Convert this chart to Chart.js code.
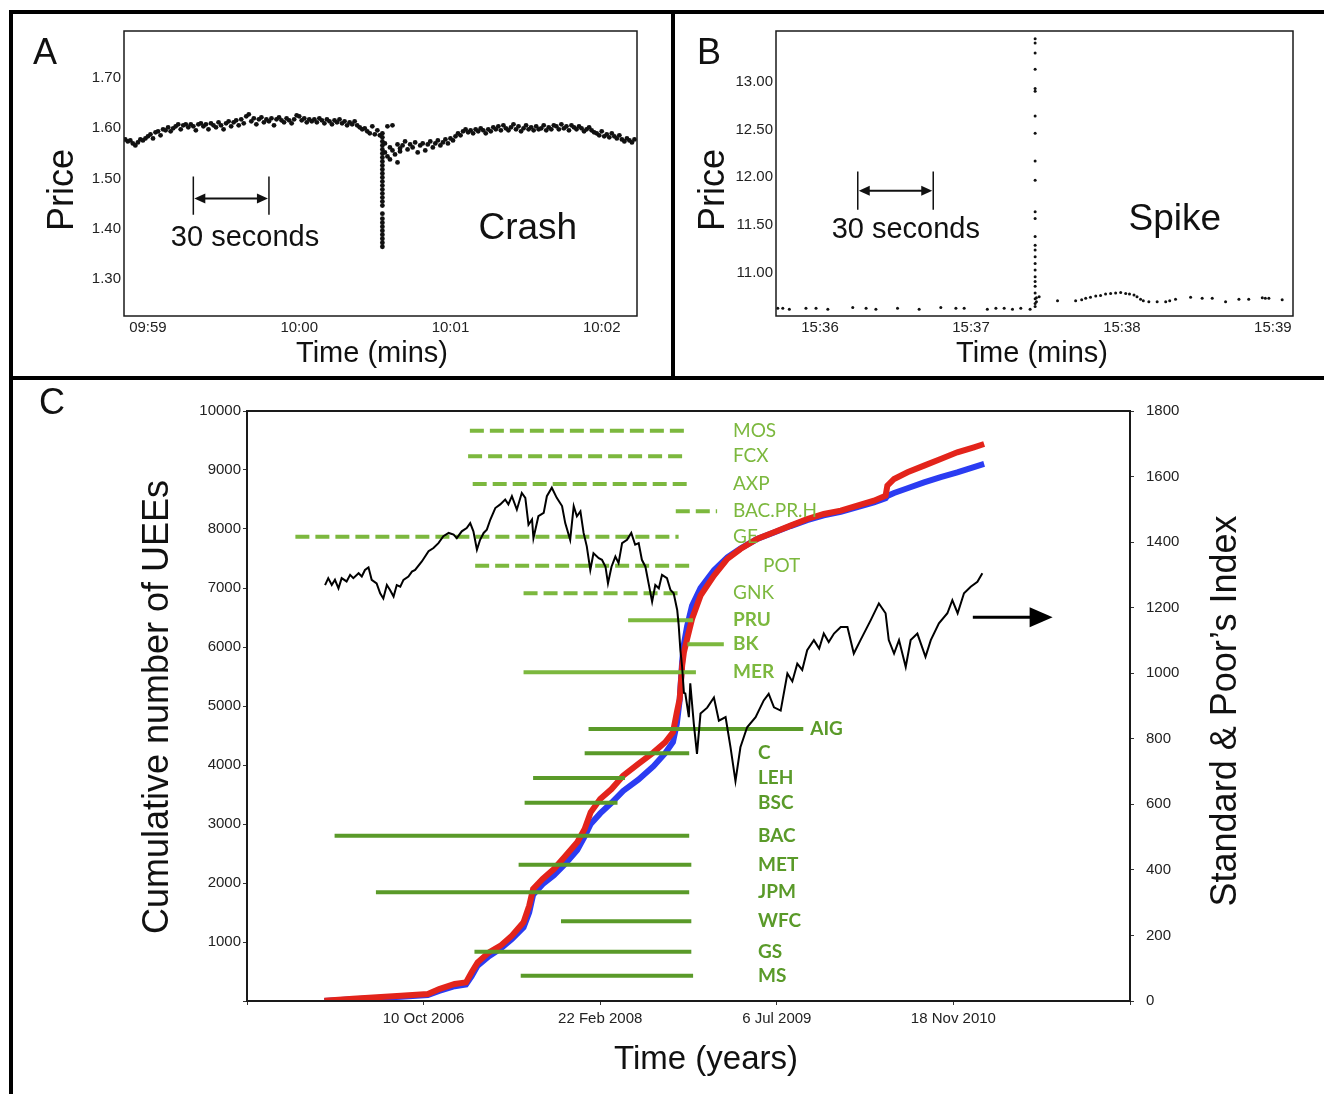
<!DOCTYPE html>
<html>
<head>
<meta charset="utf-8">
<script src="https://cdn.jsdelivr.net/npm/chart.js@4.4.1/dist/chart.umd.min.js"></script>
<style>
  body { margin: 0; background: #fff; width: 1324px; height: 1094px; overflow: hidden; position: relative;
         font-family: 'Liberation Sans', Arial, sans-serif; }
  .rule { position: absolute; background: #000; }
  .panel { position: absolute; }
  .letter { position: absolute; font-size: 36px; line-height: 36px; color: #111; transform: translate(-50%, -50%); }
</style>
</head>
<body>
<div class="rule" style="left:9px;top:10px;width:1315px;height:4px"></div>
<div class="rule" style="left:9px;top:10px;width:4px;height:1084px"></div>
<div class="rule" style="left:671px;top:10px;width:4px;height:370px"></div>
<div class="rule" style="left:9px;top:376px;width:1315px;height:4px"></div>

<div class="panel" style="left:14px;top:14px;width:658px;height:362px"><canvas id="chartA"></canvas></div>
<div class="panel" style="left:676px;top:14px;width:648px;height:362px"><canvas id="chartB"></canvas></div>
<div class="panel" style="left:14px;top:380px;width:1310px;height:714px"><canvas id="chartC"></canvas></div>

<div class="letter" style="left:45px;top:52px">A</div>
<div class="letter" style="left:709px;top:52px">B</div>
<div class="letter" style="left:52px;top:402px">C</div>

<script>
// ---------- Panel A : crash (seconds after 09:59:00) ----------
const aTime = [
  -9,-8,-7,-6,-5,-4,-3,-2,-1,0,
  1,2,3,4,5,6,7,8,9,10,
  11,12,13,14,15,16,17,18,19,20,21,22,23,24,25,26,27,28,29,30,
  31,32,33,34,35,36,37,38,39,40,41,42,43,44,45,46,47,48,49,50,51,52,53,54,55,56,57,58,59,60,61,62,63,64,65,
  66,67,68,69,70,71,72,73,74,75,76,77,78,79,80,81,82,83,84,85,86,
  87,88,89,90,91,92,
  93,93,93,93,93,93,93,93,93,93,93,93,93,93,93,93,93,93,93,93,93,93,93,93,93,93,93,93,
  94,94,95,95,96,96,97,97,98,99,99,100,100,
  101,102,103,104,105,106,107,108,109,110,111,112,113,114,115,116,117,118,119,120,121,122,
  123,124,125,126,127,128,129,130,131,132,133,134,135,136,137,
  138,139,140,141,142,143,144,145,146,147,148,149,150,151,152,153,154,155,156,157,
  158,159,160,161,162,163,164,165,166,167,168,169,170,171,172,173,174,175,176,177,
  178,179,180,181,182,183,184,185,186,187,188,189,190,191,192,193
];
const aPrice = [
  1.578,1.574,1.576,1.570,1.566,1.572,1.578,1.576,1.580,1.584,
  1.588,1.580,1.592,1.594,1.586,1.598,1.596,1.602,1.594,1.600,
  1.604,1.608,1.598,1.606,1.608,1.602,1.608,1.604,1.596,1.608,1.610,1.604,1.608,1.598,1.610,1.606,1.602,1.612,1.606,1.598,
  1.610,1.614,1.604,1.612,1.616,1.606,1.618,1.610,1.624,1.628,1.614,1.620,1.608,1.618,1.622,1.612,1.618,1.614,1.620,1.606,
  1.618,1.622,1.616,1.612,1.620,1.616,1.610,1.618,1.626,1.624,1.616,1.620,1.612,1.618,1.614,
  1.618,1.612,1.620,1.616,1.610,1.618,1.614,1.608,1.616,1.612,1.618,1.610,1.614,1.606,1.612,1.608,1.614,1.606,1.602,1.598,1.600,
  1.594,1.590,1.604,1.588,1.596,1.586,
  1.590,1.582,1.574,1.566,1.558,1.550,1.542,1.534,1.526,1.518,1.510,1.502,1.494,1.486,1.478,1.470,1.462,1.454,1.446,1.430,
  1.420,1.412,1.404,1.396,1.388,1.380,1.372,1.364,
  1.570,1.552,1.544,1.604,1.562,1.538,1.606,1.556,1.548,1.568,1.532,1.560,1.554,
  1.566,1.574,1.558,1.568,1.562,1.572,1.552,1.566,1.570,1.556,1.568,1.574,1.562,1.570,1.576,1.566,1.572,1.578,1.570,1.580,1.576,1.584,
  1.590,1.586,1.594,1.598,1.592,1.596,1.590,1.598,1.594,1.600,1.596,1.590,1.598,1.594,1.602,
  1.598,1.604,1.596,1.606,1.600,1.596,1.602,1.608,1.598,1.604,1.594,1.600,1.606,1.598,1.602,1.596,1.604,1.598,1.600,1.606,
  1.596,1.602,1.598,1.606,1.604,1.598,1.608,1.600,1.604,1.596,1.606,1.602,1.598,1.604,1.600,1.594,1.598,1.602,1.596,1.592,
  1.590,1.586,1.594,1.584,1.588,1.582,1.590,1.584,1.580,1.586,1.578,1.574,1.580,1.576,1.572,1.578
];
const aPriceTicks = [1.30, 1.40, 1.50, 1.60, 1.70];
const aTimeTicks = [0, 60, 120, 180];
const aTimeLabels = ['09:59', '10:00', '10:01', '10:02'];

// ---------- Panel B : spike (seconds after 15:36:00) ----------
const bTime = [
  -16.8,-14.8,-12.2,-5.6,-1.6,3.1,13,18.3,22.2,30.8,39.4,48,54,57.3,66.5,69.9,73.2,76.5,79.8,83.5,
  85.5,85.5,85.5,85.5,85.5,85.5,85.5,85.5,85.5,85.5,85.5,85.5,85.5,85.5,85.5,85.5,85.5,85.5,85.5,85.5,85.5,85.5,85.5,85.5,85.5,
  86,86,
  87.1,94.4,101.6,104,105.6,107.5,109.6,111.5,113.5,115.5,117.5,119.5,121.5,123,124.8,126,127.4,128.5,130.7,134,
  137.4,139,141.3,147.3,151.9,155.9,161.2,166.5,170.4,175.8,177,178.4,183.7
];
const bPrice = [
  10.63,10.63,10.62,10.63,10.63,10.62,10.64,10.63,10.62,10.63,10.62,10.64,10.63,10.63,10.62,10.63,10.63,10.62,10.63,10.62,
  13.45,13.405,13.30,13.13,12.93,12.90,12.64,12.46,12.17,11.97,11.64,11.57,11.38,11.29,11.24,11.17,11.10,11.03,10.96,10.91,
  10.86,10.79,10.73,10.68,10.65,
  10.74,10.70,
  10.75,10.71,10.71,10.72,10.735,10.745,10.76,10.765,10.78,10.785,10.79,10.795,10.785,10.78,10.77,10.75,10.725,10.71,10.70,10.70,
  10.70,10.71,10.725,10.745,10.735,10.735,10.70,10.725,10.725,10.74,10.735,10.735,10.72
];
const bPriceTicks = [11.00, 11.50, 12.00, 12.50, 13.00];
const bTimeTicks = [0, 60, 120, 180];
const bTimeLabels = ['15:36', '15:37', '15:38', '15:39'];

// ---------- Panel C : UEEs vs S&P (days after 10 Oct 2006) ----------
const dayTicks = [-500, 0, 500, 1000, 1500, 2000];
const dayLabels = ['', '10 Oct 2006', '22 Feb 2008', '6 Jul 2009', '18 Nov 2010', ''];
const ueeTicks = [0, 1000, 2000, 3000, 4000, 5000, 6000, 7000, 8000, 9000, 10000];
const spTicks = [0, 200, 400, 600, 800, 1000, 1200, 1400, 1600, 1800];

const spDay = [-279,-270,-260,-251,-241,-232,-218,-208,-199,-184,
  -175,-166,-156,-147,-133,-123,-114,-104,-95,-85,
  -76,-66,-57,-43,-33,-24,-5,14,28,42,
  56,71,85,94,108,122,132,141,151,160,
  170,179,189,203,217,231,240,250,264,278,
  288,297,307,311,325,340,349,363,377,392,
  401,415,425,434,444,453,462,472,481,496,
  505,515,522,532,543,552,562,576,588,599,
  609,618,628,637,647,656,666,675,689,699,
  708,718,722,727,732,737,741,751,755,765,774,784,803,
  822,836,855,869,883,897,916,940,963,977,
  992,1011,1030,1044,1058,1072,1086,1105,1120,1133,
  1147,1162,1181,1200,1218,1237,1266,1289,1308,1317,
  1332,1346,1365,1379,1398,1421,1436,1459,1483,1497,
  1512,1530,1549,1568,1582];
const spVal = [1269,1290,1269,1285,1259,1290,1280,1300,1290,1305,
  1295,1315,1323,1285,1274,1244,1228,1269,1254,1234,
  1269,1264,1285,1295,1310,1315,1341,1372,1382,1397,
  1418,1428,1423,1412,1433,1443,1458,1433,1377,1407,
  1428,1438,1469,1504,1515,1530,1515,1540,1499,1550,
  1535,1453,1469,1412,1479,1489,1540,1566,1535,1510,
  1458,1407,1510,1479,1494,1428,1387,1315,1366,1351,
  1346,1325,1274,1325,1356,1336,1397,1407,1428,1392,
  1397,1346,1325,1274,1218,1269,1259,1300,1290,1254,
  1244,1193,1150,1070,1019,940,938,866,969,846,754,877,895,
  926,855,866,774,671,774,835,866,917,937,
  896,886,999,975,1029,1010,1070,1101,1075,1121,
  1095,1121,1141,1141,1060,1101,1162,1213,1183,1101,
  1060,1101,1019,1101,1121,1050,1101,1152,1183,1223,
  1183,1244,1264,1279,1305];

const ueeDay = [-281,-200,-64,12,44,88,120,136,153,185,218,250,283,299,310,337,369,402,435,456,
  473,500,532,565,608,651,684,706,717,725,732,737,746,760,784,822,860,897,944,992,
  1039,1086,1133,1181,1228,1275,1308,1313,1332,1370,1417,1464,1511,1558,1587];
const redVal = [5,40,90,119,203,288,316,486,655,825,938,1107,1334,1615,1898,2068,2237,2463,2690,2915,
  3198,3424,3593,3819,4017,4215,4385,4554,4893,5119,5683,5910,6136,6475,6870,7209,7492,7661,7831,7944,
  8057,8170,8255,8311,8396,8480,8565,8735,8848,8961,9074,9187,9300,9385,9441];
const blueVal = [0,30,70,100,170,250,280,420,600,760,890,1050,1250,1500,1800,1980,2130,2330,2560,2790,
  3000,3180,3360,3560,3750,3980,4200,4390,4700,5100,5750,6050,6350,6700,7000,7300,7520,7670,7830,7940,
  8050,8150,8230,8290,8370,8450,8520,8560,8610,8690,8790,8880,8960,9050,9102];

const stockNames = ['MOS','FCX','AXP','BAC.PR.H','GE','POT','GNK','PRU','BK','MER',
  'AIG','C','LEH','BSC','BAC','MET','JPM','WFC','GS','MS'];
const stockStart = [131,126,139,714,-363,146,283,579,747,283,467,456,310,286,-252,269,-135,389,144,275];
const stockEnd   = [747,739,755,831,722,760,727,763,850,771,1075,752,570,549,752,758,752,758,758,763];
const stockLevel = [9667,9233,8763,8301,7870,7378,6911,6453,6046,5572,4610,4199,3780,3361,2802,2310,1842,1351,836,429];

// ---------- helpers ----------
const SANS = "'Liberation Sans', Arial, sans-serif";
const tickFont = { family: SANS, size: 15 };
const DASHED = 7;      // first stocks drawn dashed
const LIGHT = 10;      // first stocks in light green
const lightGreen = '#7cb83e';
const darkGreen = '#5a9a29';

function pts(xs, ys) {
  return xs.map((x, i) => ({ x: x, y: ys[i] }));
}

function text(ctx, str, x, y, size, opts) {
  opts = opts || {};
  ctx.save();
  ctx.font = (opts.bold ? 'bold ' : '') + size + 'px ' + (opts.family || SANS);
  ctx.fillStyle = opts.color || '#111';
  ctx.textAlign = opts.align || 'center';
  ctx.textBaseline = 'middle';
  ctx.translate(x, y);
  if (opts.rot) ctx.rotate(opts.rot);
  ctx.fillText(str, 0, 0);
  ctx.restore();
}

function frame(chart, w) {
  const a = chart.chartArea, ctx = chart.ctx;
  ctx.save();
  ctx.strokeStyle = '#1a1a1a';
  ctx.lineWidth = w;
  ctx.strokeRect(a.left, a.top, a.right - a.left, a.bottom - a.top);
  ctx.restore();
}

// the "30 seconds" bar, drawn in data units
function span(chart, t0, t1, yTop, yBot, yMid) {
  const ctx = chart.ctx, sx = chart.scales.x, sy = chart.scales.y;
  const x0 = sx.getPixelForValue(t0), x1 = sx.getPixelForValue(t1);
  const top = sy.getPixelForValue(yTop), bot = sy.getPixelForValue(yBot), mid = sy.getPixelForValue(yMid);
  ctx.save();
  ctx.strokeStyle = '#111'; ctx.fillStyle = '#111';
  ctx.lineWidth = 1.5;
  ctx.beginPath();
  ctx.moveTo(x0, top); ctx.lineTo(x0, bot);
  ctx.moveTo(x1, top); ctx.lineTo(x1, bot);
  ctx.stroke();
  ctx.lineWidth = 2;
  ctx.beginPath(); ctx.moveTo(x0 + 8, mid); ctx.lineTo(x1 - 8, mid); ctx.stroke();
  ctx.beginPath(); ctx.moveTo(x0 + 1, mid); ctx.lineTo(x0 + 12, mid - 5); ctx.lineTo(x0 + 12, mid + 5); ctx.closePath(); ctx.fill();
  ctx.beginPath(); ctx.moveTo(x1 - 1, mid); ctx.lineTo(x1 - 12, mid - 5); ctx.lineTo(x1 - 12, mid + 5); ctx.closePath(); ctx.fill();
  ctx.restore();
}

function fixedTicks(values) {
  return function (s) { s.ticks = values.map(v => ({ value: v })); };
}

function priceChart(id, xs, ys, cfg) {
  return new Chart(document.getElementById(id), {
    type: 'scatter',
    data: {
      datasets: [{
        data: pts(xs, ys),
        pointRadius: cfg.radius,
        pointBackgroundColor: '#111',
        pointBorderWidth: 0
      }]
    },
    options: {
      responsive: true,
      maintainAspectRatio: false,
      animation: false,
      events: [],
      layout: { padding: { left: 0, top: 17, right: cfg.right, bottom: 0 } },
      plugins: { legend: { display: false }, tooltip: { enabled: false } },
      scales: {
        x: {
          type: 'linear', min: cfg.xMin, max: cfg.xMax,
          grid: { display: false, drawTicks: false }, border: { display: false },
          afterBuildTicks: fixedTicks(cfg.xTicks),
          afterFit: s => { s.height = 60; },
          ticks: { font: tickFont, color: '#222', padding: 3, maxRotation: 0, autoSkip: false,
                   callback: (v, i) => cfg.xLabels[i] }
        },
        y: {
          type: 'linear', min: cfg.yMin, max: cfg.yMax,
          grid: { display: false, drawTicks: false }, border: { display: false },
          afterBuildTicks: fixedTicks(cfg.yTicks),
          afterFit: s => { s.width = cfg.yWidth; },
          ticks: { font: tickFont, color: '#222', padding: 3, autoSkip: false,
                   callback: v => Number(v).toFixed(2) }
        }
      }
    },
    plugins: [{
      id: 'decor',
      afterDraw(chart) {
        const ctx = chart.ctx, sx = chart.scales.x, sy = chart.scales.y;
        frame(chart, 1.5);
        span(chart, cfg.bar[0], cfg.bar[1], cfg.bar[2], cfg.bar[3], cfg.bar[4]);
        text(ctx, '30 seconds', sx.getPixelForValue(cfg.barText[0]), sy.getPixelForValue(cfg.barText[1]), 29);
        text(ctx, cfg.word, sx.getPixelForValue(cfg.wordAt[0]), sy.getPixelForValue(cfg.wordAt[1]), 37);
        text(ctx, 'Price', cfg.priceAt[0], cfg.priceAt[1], 36, { rot: -Math.PI / 2 });
        text(ctx, 'Time (mins)', cfg.timeAt[0], cfg.timeAt[1], 29);
      }
    }]
  });
}

priceChart('chartA', aTime, aPrice, {
  radius: 2.4, right: 35, yWidth: 110,
  xMin: -9.5, xMax: 194, xTicks: aTimeTicks, xLabels: aTimeLabels,
  yMin: 1.226, yMax: 1.794, yTicks: aPriceTicks,
  bar: [18, 48, 1.504, 1.428, 1.46], barText: [38.5, 1.382],
  word: 'Crash', wordAt: [150.7, 1.40],
  priceAt: [49, 176], timeAt: [358, 340]
});

priceChart('chartB', bTime, bPrice, {
  radius: 1.5, right: 31, yWidth: 100,
  xMin: -17.5, xMax: 188, xTicks: bTimeTicks, xLabels: bTimeLabels,
  yMin: 10.55, yMax: 13.53, yTicks: bPriceTicks,
  bar: [15, 45, 12.06, 11.66, 11.86], barText: [34.1, 11.45],
  word: 'Spike', wordAt: [141, 11.555],
  priceAt: [38, 176], timeAt: [356, 340]
});

// ---------- Panel C ----------
const cSets = [];
cSets.push({
  data: pts(spDay, spVal), yAxisID: 'y1', showLine: true, pointRadius: 0,
  borderColor: '#000', borderWidth: 2, order: 0
});
stockNames.forEach((name, i) => {
  cSets.push({
    data: [{ x: stockStart[i], y: stockLevel[i] }, { x: stockEnd[i], y: stockLevel[i] }],
    yAxisID: 'y', showLine: true, pointRadius: 0, borderCapStyle: 'butt',
    borderColor: i < LIGHT ? lightGreen : darkGreen,
    borderWidth: 4,
    borderDash: i < DASHED ? [14, 6] : [],
    order: 1
  });
});
cSets.push({
  data: pts(ueeDay, redVal), yAxisID: 'y', showLine: true, pointRadius: 0,
  borderColor: '#e3241b', borderWidth: 6, order: 2
});
cSets.push({
  data: pts(ueeDay, blueVal), yAxisID: 'y', showLine: true, pointRadius: 0,
  borderColor: '#2b3cf2', borderWidth: 6, order: 3
});

const tickMarks = { display: true, drawOnChartArea: false, drawTicks: true, tickLength: 4, color: '#333' };

new Chart(document.getElementById('chartC'), {
  type: 'scatter',
  data: { datasets: cSets },
  options: {
    responsive: true,
    maintainAspectRatio: false,
    animation: false,
    events: [],
    layout: { padding: { left: 0, top: 31, right: 0, bottom: 0 } },
    plugins: { legend: { display: false }, tooltip: { enabled: false } },
    scales: {
      x: {
        type: 'linear', min: -500, max: 2000,
        grid: tickMarks, border: { display: false },
        afterBuildTicks: fixedTicks(dayTicks),
        afterFit: s => { s.height = 93; },
        ticks: { font: tickFont, color: '#222', padding: 5, maxRotation: 0, autoSkip: false,
                 callback: (v, i) => dayLabels[i] }
      },
      y: {
        type: 'linear', position: 'left', min: 0, max: 10000,
        grid: tickMarks, border: { display: false },
        afterBuildTicks: fixedTicks(ueeTicks),
        afterFit: s => { s.width = 233; },
        ticks: { font: tickFont, color: '#222', padding: 2, autoSkip: false,
                 callback: v => v === 0 ? '' : String(v) }
      },
      y1: {
        type: 'linear', position: 'right', min: 0, max: 1800,
        grid: tickMarks, border: { display: false },
        afterBuildTicks: fixedTicks(spTicks),
        afterFit: s => { s.width = 194; },
        ticks: { font: tickFont, color: '#222', padding: 12, autoSkip: false,
                 callback: v => String(v) }
      }
    }
  },
  plugins: [{
    id: 'decorC',
    afterDraw(chart) {
      const ctx = chart.ctx, a = chart.chartArea;
      const sx = chart.scales.x, sy = chart.scales.y, s1 = chart.scales.y1;
      frame(chart, 2);

      // stock labels
      stockNames.forEach((name, i) => {
        let x;
        if (name === 'AIG') x = sx.getPixelForValue(stockEnd[i]) + 7;
        else if (name === 'POT') x = a.left + 516;
        else if (i < LIGHT) x = a.left + 486;
        else x = a.left + 511;
        text(ctx, name, x, sy.getPixelForValue(stockLevel[i]), 19, {
          align: 'left', family: "Lato, 'Open Sans', sans-serif",
          bold: i >= DASHED, color: i < LIGHT ? lightGreen : darkGreen
        });
      });

      // arrow pointing at the S&P axis
      const ay = s1.getPixelForValue(1171);
      const ax0 = sx.getPixelForValue(1555), ax1 = sx.getPixelForValue(1781);
      ctx.save();
      ctx.strokeStyle = '#000'; ctx.fillStyle = '#000'; ctx.lineWidth = 3;
      ctx.beginPath(); ctx.moveTo(ax0, ay); ctx.lineTo(ax1 - 20, ay); ctx.stroke();
      ctx.beginPath(); ctx.moveTo(ax1, ay); ctx.lineTo(ax1 - 23, ay - 10); ctx.lineTo(ax1 - 23, ay + 10); ctx.closePath(); ctx.fill();
      ctx.restore();

      text(ctx, 'Cumulative number of UEEs', 144, 327, 36, { rot: -Math.PI / 2 });
      text(ctx, 'Standard & Poor\u2019s Index', 1212, 331, 36, { rot: -Math.PI / 2 });
      text(ctx, 'Time (years)', 692, 680, 33);
    }
  }]
});
</script>
</body>
</html>
